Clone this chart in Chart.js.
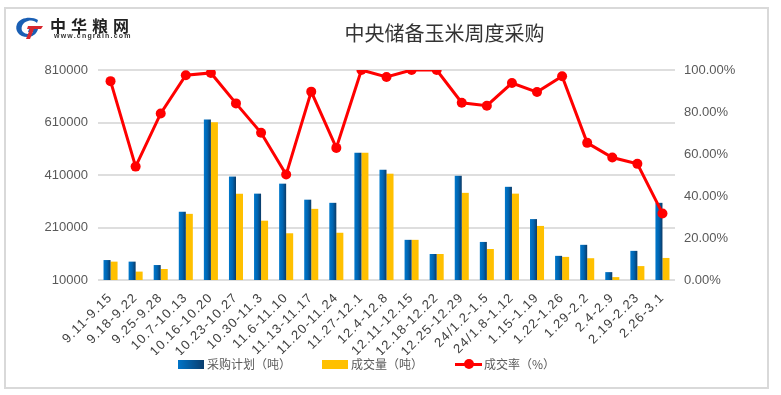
<!DOCTYPE html>
<html><head><meta charset="utf-8">
<script src="https://cdn.jsdelivr.net/npm/chart.js@4"></script>
<style>
html,body{margin:0;padding:0;background:#fff;width:781px;height:395px;overflow:hidden;font-family:"Liberation Sans","Noto Sans CJK SC",sans-serif;}
#frame{position:absolute;left:4px;top:7px;width:765px;height:382px;box-sizing:border-box;border:2px solid #d9d9d9;}
#wrap{position:absolute;left:0;top:0;width:781px;height:395px;}
#title{position:absolute;left:0;width:781px;top:18px;text-align:center;font-family:"Noto Sans CJK SC";font-size:20px;color:#333;padding-left:108px;box-sizing:border-box;}
#logo{position:absolute;left:14px;top:16px;}
#logotxt{position:absolute;left:50px;top:13px;font-family:"Noto Sans CJK SC";font-weight:bold;font-size:16px;color:#222;letter-spacing:5px;}
#logourl{position:absolute;left:54px;top:32px;font-family:"Liberation Sans";font-weight:bold;font-size:7px;color:#333;letter-spacing:1.2px;}
#legend{position:absolute;top:356px;left:0;width:781px;font-family:"Noto Sans CJK SC";font-size:12px;color:#595959;}
.li{position:absolute;top:0;height:16px;line-height:16px;}
.sw{position:absolute;top:4px;width:26px;height:9px;}
.lt{position:absolute;left:29px;top:0;white-space:nowrap;}
</style></head>
<body>
<div id="wrap"><canvas id="c" width="781" height="395"></canvas></div>
<div id="frame"></div>
<svg id="logo" width="30" height="24" viewBox="0 0 30 24">
  <path d="M24 4 C18 0 6 1 3 8 C0 15 6 22 15 21 C20 20 23 17 24 13 L15 13 L14 16 L19 16 C17 18 12 19 9 16 C6 13 8 6 14 5 C18 4 21 5 23 7 Z" fill="#1a5fb4"/>
  <path d="M14 10 L29 10 L27 13 L20 13 L16 23 L12 23 L16 13 L13 13 Z" fill="#d7282f"/>
</svg>
<div id="logotxt">中华粮网</div>
<div id="logourl">www.cngrain.com</div>
<div id="title">中央储备玉米周度采购</div>
<div id="legend">
  <div class="li" style="left:178px"><div class="sw" style="left:0;background:linear-gradient(90deg,#0074c8,#0a3d6e)"></div><div class="lt">采购计划（吨）</div></div>
  <div class="li" style="left:322px"><div class="sw" style="left:0;background:#ffc000"></div><div class="lt">成交量（吨）</div></div>
  <div class="li" style="left:455px"><div style="position:absolute;left:0;top:7px;width:27px;height:3px;background:#ff0000"></div><div style="position:absolute;left:9px;top:3px;width:10px;height:10px;border-radius:50%;background:#ff0000"></div><div class="lt">成交率（%）</div></div>
</div>
<script>
const categories = ["9.11-9.15","9.18-9.22","9.25-9.28","10.7-10.13","10.16-10.20","10.23-10.27","10.30-11.3","11.6-11.10","11.13-11.17","11.20-11.24","11.27-12.1","12.4-12.8","12.11-12.15","12.18-12.22","12.25-12.29","24/1.2-1.5","24/1.8-1.12","1.15-1.19","1.22-1.26","1.29-2.2","2.4-2.9","2.19-2.23","2.26-3.1"];
const planTons = [86000,80000,67000,270000,621000,404000,339000,377000,316000,304000,495000,430000,163000,109000,407000,155000,365000,242000,102000,144000,40000,121000,304000];
const dealTons = [80000,42000,52000,262000,611000,339000,236000,188000,281000,190000,495000,415000,163000,109000,342000,128000,339000,216000,98000,93000,21000,63000,94000];
const dealRate = [0.947,0.54,0.793,0.975,0.986,0.841,0.701,0.502,0.897,0.629,1.0,0.967,1.0,1.0,0.844,0.83,0.938,0.895,0.97,0.653,0.583,0.553,0.317];
const leftTicks = [10000,210000,410000,610000,810000];

const ctx = document.getElementById('c').getContext('2d');
function blueGrad(c){
  const ch = c.chart; const xs = ch.scales && ch.scales.x;
  if(!xs || c.dataIndex===undefined) return '#0068b8';
  const x = xs.getPixelForValue(c.dataIndex);
  const w = (xs.width/categories.length)*0.56/2;
  if(!isFinite(x) || !isFinite(w) || w<=0) return '#0068b8';
  const g = ch.ctx.createLinearGradient(x-w,0,x,0);
  g.addColorStop(0,'#0078cc'); g.addColorStop(0.5,'#0064b0'); g.addColorStop(1,'#0b3a66');
  return g;
}
new Chart(ctx,{
  data:{
    labels:categories,
    datasets:[
      {type:'line',label:'成交率（%）',data:dealRate,yAxisID:'y1',borderColor:'#ff0000',backgroundColor:'#ff0000',borderWidth:3,pointRadius:5,pointBackgroundColor:'#ff0000',pointBorderWidth:0,tension:0,order:0},
      {type:'bar',label:'采购计划（吨）',data:planTons,yAxisID:'y',backgroundColor:blueGrad,categoryPercentage:0.56,barPercentage:1,order:1},
      {type:'bar',label:'成交量（吨）',data:dealTons,yAxisID:'y',backgroundColor:'#ffc000',categoryPercentage:0.56,barPercentage:1,order:2}
    ]
  },
  options:{
    responsive:false,animation:false,
    layout:{padding:{left:38,right:46,top:70,bottom:40}},
    plugins:{legend:{display:false},tooltip:{enabled:false},title:{display:false}},
    scales:{
      x:{
        grid:{display:false},border:{display:false},
        ticks:{minRotation:45,maxRotation:45,autoSkip:false,color:'#404040',font:{family:'Liberation Sans',size:13},padding:2},
        afterFit(s){
          s.height=75;
          if(!s._lsWrapped){
            const orig=s.drawLabels;
            s.drawLabels=function(ca){const c=this.ctx;const prev=c.letterSpacing;c.letterSpacing='1.2px';orig.call(this,ca);c.letterSpacing=prev||'0px';};
            s._lsWrapped=true;
          }
        }
      },
      y:{
        position:'left',min:10000,max:810000,
        afterBuildTicks(s){s.ticks=leftTicks.map(v=>({value:v}));},
        grid:{color:'#dedede',lineWidth:2,drawTicks:false},border:{display:false},
        ticks:{color:'#595959',font:{family:'Liberation Sans',size:13},padding:10,callback:v=>String(v)},
        afterFit(s){s.width=60;}
      },
      y1:{
        position:'right',min:0,max:1,
        grid:{display:false,drawTicks:false},border:{display:false},
        ticks:{stepSize:0.2,color:'#595959',font:{family:'Liberation Sans',size:13},padding:9,callback:v=>(v*100).toFixed(2)+'%'},
        afterFit(s){s.width=60;}
      }
    }
  }
});
</script>
</body></html>
